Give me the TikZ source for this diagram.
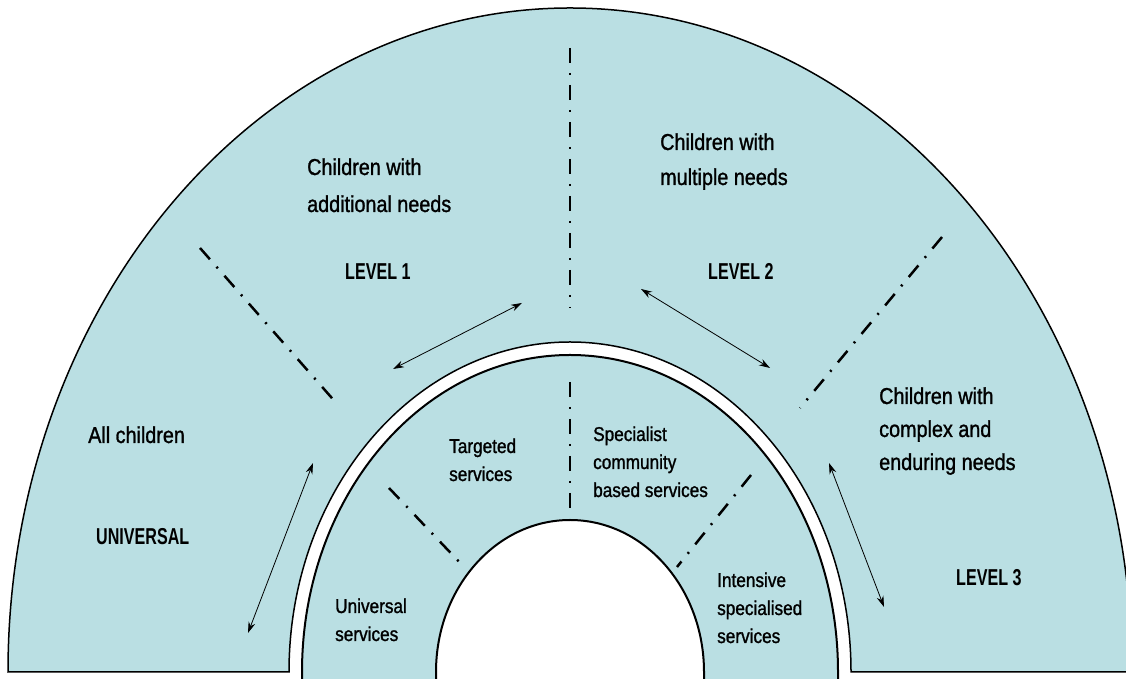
\documentclass[tikz,border=0pt]{standalone}
\usepackage{fontspec}
\setmainfont[FakeStretch=0.86, FakeBold=1.2]{Liberation Sans}
\newfontfamily\levelfont[FakeStretch=0.7]{Liberation Sans}
\usepackage{tikz}
\usetikzlibrary{calc, positioning, arrows.meta}
\definecolor{ringblue}{RGB}{186,223,227}
\tikzstyle{ring}=[fill=ringblue, draw=black, line width=1.5pt]
\tikzstyle{divider}=[line width=2.5pt, dash pattern=on 15pt off 10pt on 2pt off 10pt]
\tikzstyle{link}=[{Stealth[length=11pt,width=7pt]}-{Stealth[length=11pt,width=7pt]}, line width=0.8pt]
\tikzstyle{outer text}=[align=left, anchor=base west, inner sep=0pt, font=\fontsize{23}{36}\selectfont]
\tikzstyle{inner text}=[align=left, anchor=base west, inner sep=0pt, font=\fontsize{20}{28}\selectfont]
\tikzstyle{level text}=[anchor=base west, inner sep=0pt, font=\levelfont\bfseries\fontsize{23}{28}\selectfont]

\begin{document}
\begin{tikzpicture}[x=1pt, y=1pt]
		\useasboundingbox (0,0) rectangle (1126,679);
		
		% Outer band
		\path[ring] (8,7) arc[start angle=180, end angle=0, x radius=562, y radius=664]
			-- (851,7) arc[start angle=0, end angle=180, x radius=281, y radius=330] -- cycle;
		
		% Middle band
		\path[ring, line width=2pt] (302,-10) -- (302,7) arc[start angle=180, end angle=0, x radius=268, y radius=317]
			-- (838,-10) -- (704,-10) -- (704,7) arc[start angle=0, end angle=180, x radius=134, y radius=152]
			-- (436,-10) -- cycle;
		
		% Dividers
		\coordinate (top a) at (570,631);
		\coordinate (top b) at (570,371);
		\coordinate (left a) at (200,431);
		\coordinate (left b) at (338,274);
		\coordinate (right a) at (942,442);
		\coordinate (right b) at (800,271);
		\coordinate (mid a) at (570,297);
		\coordinate (mid b) at (570,167);
		\coordinate (midleft a) at (389,191);
		\coordinate (midleft b) at (464,112);
		\coordinate (midright a) at (751,204);
		\coordinate (midright b) at (677,112);
		\foreach \d in {top, left, right, mid, midleft, midright}
		\draw[divider] (\d\space a) -- (\d\space b);
		
		% Arrows
		\coordinate (l1 a) at (522,376);
		\coordinate (l1 b) at (393,310);
		\coordinate (l2 a) at (641,390);
		\coordinate (l2 b) at (770,311);
		\coordinate (u a) at (313,216);
		\coordinate (u b) at (248,46);
		\coordinate (l3 a) at (829,216);
		\coordinate (l3 b) at (884,72);
		\foreach \a in {l1, l2, u, l3}
		\draw[link] (\a\space a) -- (\a\space b);
		
		% Outer band texts (placed at the last line)
		\node[outer text, font=\fontsize{23}{37}\selectfont] (addl) at (307,467) {Children with\\additional needs};
		\node[level text] (lvl1) at (345,399) {LEVEL 1};
		\node[outer text, font=\fontsize{23}{35}\selectfont] (mult) at (660,494) {Children with\\multiple needs};
		\node[level text] (lvl2) at (708,399) {LEVEL 2};
		\node[outer text] (all) at (88,236) {All children};
		\node[level text] (univ) at (96,134) {UNIVERSAL};
		\node[outer text, font=\fontsize{23}{33}\selectfont] (cmplx) at (879,209) {Children with\\complex and\\enduring needs};
		\node[level text] (lvl3) at (956,93) {LEVEL 3};
		
		% Middle band texts
		\node[inner text] (targ) at (449,198) {Targeted\\services};
		\node[inner text] (spec) at (593,182) {Specialist\\community\\based services};
		\node[inner text] (usvc) at (335,38) {Universal\\services};
		\node[inner text] (isvc) at (717,36) {Intensive\\specialised\\services};
		
	\end{tikzpicture}
\end{document}
